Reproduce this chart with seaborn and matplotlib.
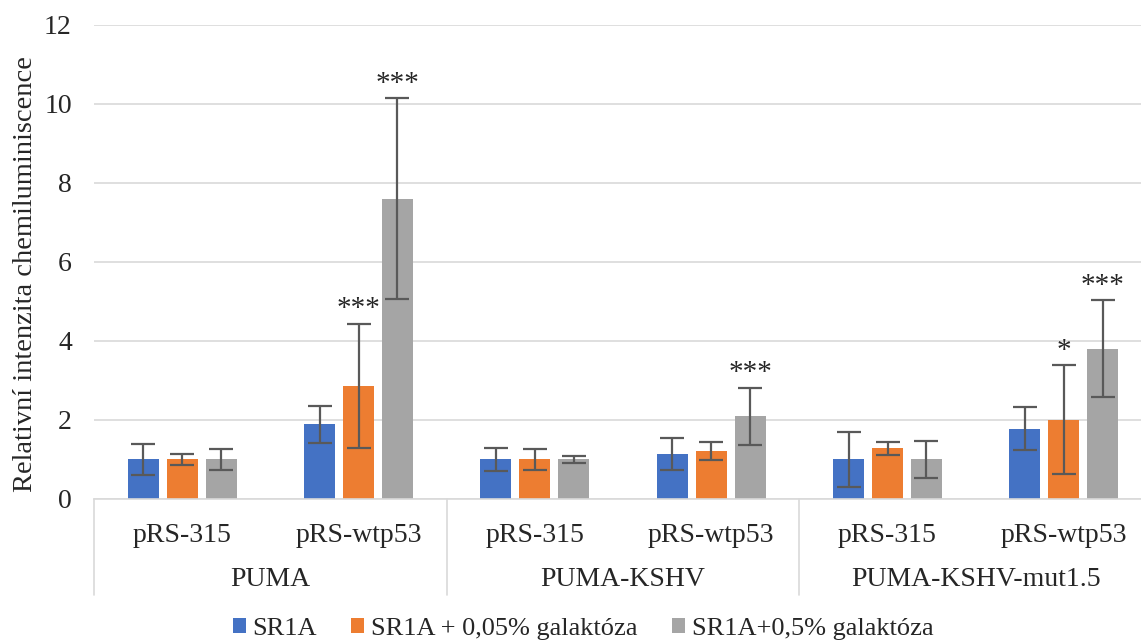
import pandas as pd
import seaborn as sns
import matplotlib.pyplot as plt
import matplotlib.transforms as mtransforms
from matplotlib.patches import Patch

# data
groups = ["PUMA", "PUMA-KSHV", "PUMA-KSHV-mut1.5"]
plasmids = ["pRS-315", "pRS-wtp53"]
series = ["SR1A", "SR1A + 0,05% galaktóza", "SR1A+0,5% galaktóza"]
colors = ["#4472C4", "#ED7D31", "#A5A5A5"]

# one list per series, order: PUMA/315, PUMA/wtp53, KSHV/315, KSHV/wtp53, mut/315, mut/wtp53
means_sr1a = [1.0, 1.89, 1.0, 1.14, 1.0, 1.78]
means_005 = [1.0, 2.86, 1.0, 1.21, 1.28, 2.01]
means_05 = [1.0, 7.60, 1.0, 2.09, 1.0, 3.80]
err_sr1a = [0.40, 0.47, 0.29, 0.40, 0.70, 0.54]
err_005 = [0.15, 1.58, 0.26, 0.22, 0.16, 1.37]
err_05 = [0.26, 2.54, 0.10, 0.73, 0.48, 1.23]
stars_sr1a = ["", "", "", "", "", ""]
stars_005 = ["", "***", "", "", "", "*"]
stars_05 = ["", "***", "", "***", "", "***"]

cats = [g + "|" + p for g in groups for p in plasmids]
means = [means_sr1a, means_005, means_05]
errs = [err_sr1a, err_005, err_05]
stars = [stars_sr1a, stars_005, stars_05]

rows = []
for s, m in zip(series, means):
    for c, v in zip(cats, m):
        rows.append({"cat": c, "serie": s, "value": v})
df = pd.DataFrame(rows)

sns.set_style("white")
plt.rcParams["font.family"] = ["Liberation Serif", "DejaVu Serif"]
plt.rcParams["font.size"] = 20

fig = plt.figure(figsize=(11.41, 6.42), dpi=100)
ax = fig.add_axes([94 / 1141, 1 - 499 / 642, 1058 / 1141, (499 - 24.7) / 642])

sns.barplot(data=df, x="cat", y="value", hue="serie", order=cats, hue_order=series,
            palette=colors, saturation=1, width=0.663, gap=0.2, errorbar=None,
            legend=False, linewidth=0, ax=ax)

# error bars + significance stars
for cont, e, st in zip(ax.containers, errs, stars):
    for bar, ee, s in zip(cont, e, st):
        xc = bar.get_x() + bar.get_width() / 2
        h = bar.get_height()
        ax.errorbar(xc, h, yerr=ee, color="#595959", lw=1.6, capsize=8.5, capthick=1.6,
                    zorder=5)
        if s:
            ax.annotate(s, (xc, h + ee), xytext=(0, 1), textcoords="offset points",
                        ha="center", va="bottom", fontsize=21)

ax.set_ylim(0, 12)
ax.set_xlim(-0.5, len(cats) - 0.5)
ax.set_yticks(range(0, 13, 2))
ax.yaxis.grid(True, color="#d9d9d9", lw=1.2)
ax.set_axisbelow(True)
for side in ["top", "right", "left"]:
    ax.spines[side].set_visible(False)
ax.spines["bottom"].set_color("#d9d9d9")
ax.spines["bottom"].set_linewidth(1.2)
ax.tick_params(axis="both", length=0)
ax.tick_params(axis="y", pad=16)
ax.tick_params(axis="x", pad=17)
ax.set_xticks(range(len(cats)))
ax.set_xticklabels([c.split("|")[1] for c in cats])
ax.set_xlabel("")
ax.set_ylabel("Relativní intenzita chemiluminiscence", fontsize=20.5)
ax.yaxis.set_label_coords(-0.053, 0.475)

# group labels and separators under the axis
trans = mtransforms.blended_transform_factory(ax.transData, ax.transAxes)
sep_y = -96 / 474.3
for i, g in enumerate(groups):
    ax.text(2 * i + 0.5, -80 / 474.3, g, transform=trans, ha="center", va="center")
for xs in [-0.5, 1.5, 3.5, 5.5]:
    ax.plot([xs, xs], [0, sep_y], transform=trans, color="#d9d9d9", lw=1.2, clip_on=False)

handles = [Patch(facecolor=c, edgecolor="none") for c in colors]
fig.legend(handles, series, loc="center", bbox_to_anchor=(583 / 1141, 1 - 629 / 642),
           ncol=3, frameon=False, handlelength=0.5, handleheight=0.5,
           handletextpad=0.25, columnspacing=1.3, fontsize=19)

fig.savefig("out.png", dpi=100)
